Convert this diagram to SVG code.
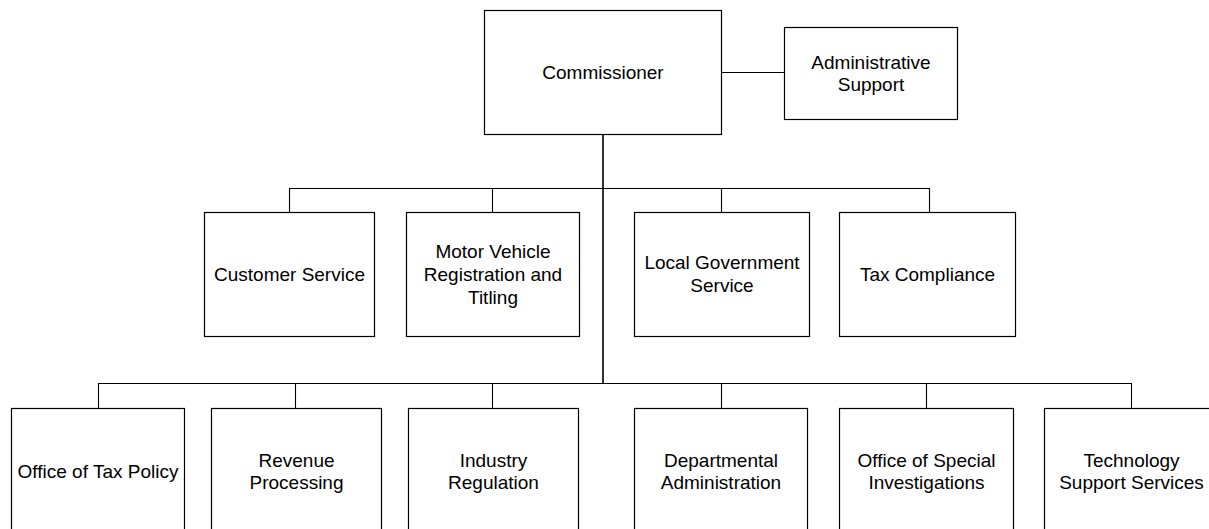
<svg xmlns="http://www.w3.org/2000/svg" width="1209" height="529" viewBox="0 0 1209 529">
<style>
  .box { fill: #ffffff; stroke: #000000; stroke-width: 1.2; }
  .conn { fill: none; stroke: #000000; stroke-width: 1.1; }
  .trunk { fill: none; stroke: #000000; stroke-width: 1.6; }
  text { font-family: "Liberation Sans", Arial, sans-serif; font-size: 19px; fill: #000000; text-anchor: middle; }
</style>
<rect width="1209" height="529" fill="#ffffff"/>
<g id="connectors">
  <path class="conn" d="M721.5 72.5 H784.5"/>
  <path class="trunk" d="M603 134.5 V383.5"/>
  <path class="conn" d="M289.5 212.5 V188.5 H929.5 V212.5 M492.5 188.5 V212.5 M721.5 188.5 V212.5"/>
  <path class="conn" d="M98.5 408.5 V383.5 H1131.5 V408.5 M295.5 383.5 V408.5 M492.5 383.5 V408.5 M721.5 383.5 V408.5 M926.5 383.5 V408.5"/>
</g>
<g id="commissioner">
  <rect class="box" x="484.5" y="10.5" width="237" height="124"/>
  <text x="603" y="79">Commissioner</text>
</g>
<g id="administrative-support">
  <rect class="box" x="784.5" y="27.5" width="173" height="92"/>
  <text x="871" y="68.5">Administrative</text>
  <text x="871" y="91">Support</text>
</g>
<g id="customer-service">
  <rect class="box" x="204.5" y="212.5" width="170" height="124"/>
  <text x="289.5" y="281">Customer Service</text>
</g>
<g id="motor-vehicle">
  <rect class="box" x="406.5" y="212.5" width="173" height="124"/>
  <text x="493" y="257.5">Motor Vehicle</text>
  <text x="493" y="280.5">Registration and</text>
  <text x="493" y="303.5">Titling</text>
</g>
<g id="local-government-service">
  <rect class="box" x="634.5" y="212.5" width="175" height="124"/>
  <text x="722" y="268.5">Local Government</text>
  <text x="722" y="291.5">Service</text>
</g>
<g id="tax-compliance">
  <rect class="box" x="839.5" y="212.5" width="176" height="124"/>
  <text x="927.5" y="281">Tax Compliance</text>
</g>
<g id="office-of-tax-policy">
  <rect class="box" x="11.5" y="408.5" width="173" height="124"/>
  <text x="98" y="478">Office of Tax Policy</text>
</g>
<g id="revenue-processing">
  <rect class="box" x="211.5" y="408.5" width="170" height="124"/>
  <text x="296.5" y="466.5">Revenue</text>
  <text x="296.5" y="489">Processing</text>
</g>
<g id="industry-regulation">
  <rect class="box" x="408.5" y="408.5" width="170" height="124"/>
  <text x="493.5" y="466.5">Industry</text>
  <text x="493.5" y="489">Regulation</text>
</g>
<g id="departmental-administration">
  <rect class="box" x="634.5" y="408.5" width="173" height="124"/>
  <text x="721" y="466.5">Departmental</text>
  <text x="721" y="489">Administration</text>
</g>
<g id="office-of-special-investigations">
  <rect class="box" x="839.5" y="408.5" width="174" height="124"/>
  <text x="926.5" y="466.5">Office of Special</text>
  <text x="926.5" y="489">Investigations</text>
</g>
<g id="technology-support-services">
  <rect class="box" x="1044.5" y="408.5" width="174" height="124"/>
  <text x="1131.5" y="466.5">Technology</text>
  <text x="1131.5" y="489">Support Services</text>
</g>
</svg>
